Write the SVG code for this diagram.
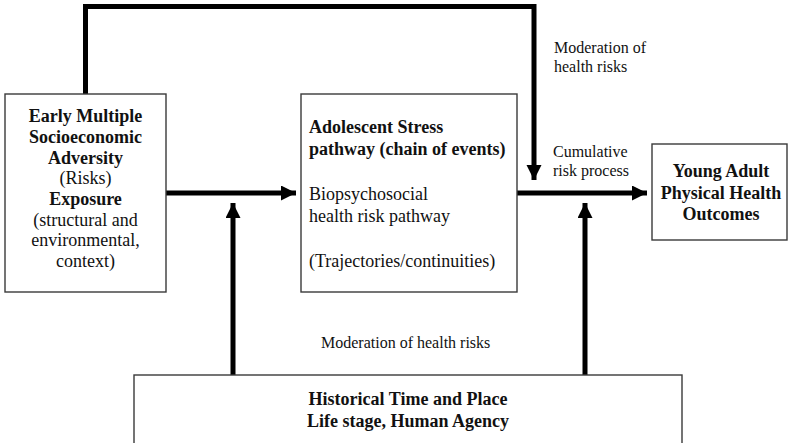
<svg xmlns="http://www.w3.org/2000/svg" width="791" height="443" viewBox="0 0 791 443">
<defs>
<marker id="ah" markerUnits="userSpaceOnUse" markerWidth="16" markerHeight="16" refX="15" refY="7.5" orient="auto">
<path d="M0,0 L15,7.5 L0,15 z" fill="#000"/>
</marker>
<style>
.box{fill:#fff;stroke:#3a3a3a;stroke-width:1.4}
.c{fill:none;stroke:#000;stroke-width:5;stroke-linejoin:miter}
text{font-family:"Liberation Serif","Times New Roman",serif;fill:#111}
.b{font-weight:bold;font-size:18px}
.r{font-size:18px}
.s{font-size:16px}
.m{text-anchor:middle}
</style>
</defs>
<rect width="791" height="443" fill="#fff"/>
<g id="connectors">
<polyline class="c" points="85.5,94 85.5,6.5 534,6.5 534,180" marker-end="url(#ah)"/>
<line class="c" x1="166" y1="193" x2="296" y2="193" marker-end="url(#ah)"/>
<line class="c" x1="517" y1="193" x2="647" y2="193" marker-end="url(#ah)"/>
<line class="c" x1="233" y1="375" x2="233" y2="203" marker-end="url(#ah)"/>
<line class="c" x1="585" y1="375" x2="585" y2="203" marker-end="url(#ah)"/>
</g>
<g id="early">
<rect class="box" x="5" y="94" width="161" height="198"/>
<text class="b m" x="85.5" y="122">Early Multiple</text>
<text class="b m" x="85.5" y="143">Socioeconomic</text>
<text class="b m" x="85.5" y="163.5">Adversity</text>
<text class="r m" x="85.5" y="184">(Risks)</text>
<text class="b m" x="85.5" y="205">Exposure</text>
<text class="r m" x="85.5" y="225.5">(structural and</text>
<text class="r m" x="85.5" y="246">environmental,</text>
<text class="r m" x="85.5" y="267">context)</text>
</g>
<g id="adolescent">
<rect class="box" x="301" y="94" width="216" height="198"/>
<text class="b" x="309" y="133">Adolescent Stress</text>
<text class="b" x="309" y="155">pathway (chain of events)</text>
<text class="r" x="309" y="200">Biopsychosocial</text>
<text class="r" x="309" y="222">health risk pathway</text>
<text class="r" x="309" y="267">(Trajectories/continuities)</text>
</g>
<g id="young">
<rect class="box" x="652" y="144" width="135" height="96"/>
<text class="b m" x="721" y="177">Young Adult</text>
<text class="b m" x="721" y="198.5">Physical Health</text>
<text class="b m" x="721" y="220">Outcomes</text>
</g>
<g id="historical">
<rect class="box" x="134" y="375" width="548" height="80"/>
<text class="b m" x="408" y="405">Historical Time and Place</text>
<text class="b m" x="408" y="427">Life stage, Human Agency</text>
</g>
<g id="labels">
<text class="s" x="554" y="53">Moderation of</text>
<text class="s" x="554" y="72">health risks</text>
<text class="s" x="553" y="157">Cumulative</text>
<text class="s" x="553" y="176">risk process</text>
<text class="s" x="321" y="348">Moderation of health risks</text>
</g>
</svg>
